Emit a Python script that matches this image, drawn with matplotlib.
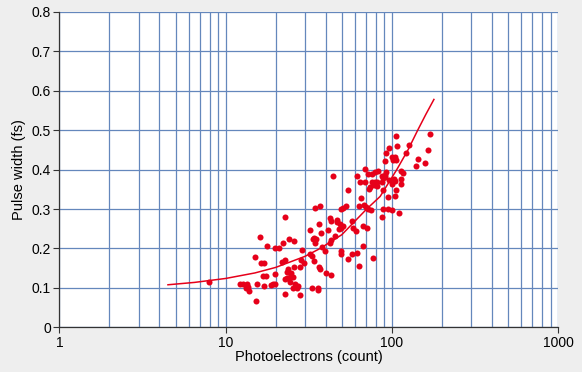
import numpy as np
import matplotlib
matplotlib.use("Agg")
import matplotlib.pyplot as plt
from matplotlib.ticker import FixedLocator, NullFormatter

plt.rcParams['font.family'] = ['Liberation Sans', 'DejaVu Sans']

counts = [
    7.9,
    22.8, 16.0, 24.0, 25.7, 17.8, 19.7, 20.8, 22.2, 29.0, 15.0, 17.1, 16.4, 22.8, 21.8,
    28.3, 29.7, 25.9, 28.0, 23.8, 23.3, 24.9, 25.4, 24.3, 19.7, 16.7, 17.6, 23.3, 22.8,
    19.9, 19.4, 18.8, 17.1, 15.4, 12.2, 12.8, 13.4, 13.6, 13.2, 13.8, 24.3, 26.1, 27.2,
    22.8, 28.2, 15.2, 25.4, 26.7,
    65.3, 34.4, 37.1, 49.2, 50.6, 53.3, 63.6, 67.9, 70.0, 72.2, 74.6, 42.4, 42.8, 47.0,
    47.0, 48.6, 57.2, 50.6, 49.2, 48.3, 36.6, 41.5, 32.2, 58.5, 60.6, 67.3, 71.3, 37.6,
    45.3, 34.2, 35.2, 33.6, 42.8, 42.4, 34.4, 38.1, 39.4, 49.2, 49.2, 32.2, 33.0, 61.8,
    57.9, 67.3, 77.5, 54.6, 34.0, 63.6, 36.6, 36.9, 40.4, 42.8, 33.3, 36.0, 36.0,
    94.4, 103.8, 88.8, 94.4, 99.9, 87.6, 110.5,
    44.4, 54.6, 61.5, 69.0, 72.0, 75.6, 64.7, 69.0, 75.6, 79.1, 73.7, 78.3, 73.1, 81.7, 81.7,
    106.5, 170, 107.1, 127, 96.2, 92.7, 164, 122, 99.8, 104, 105.3, 101.8, 144, 90.4,
    159, 139, 83, 79, 92.7, 90.4, 113, 116, 86.9, 88.8, 91, 95.5, 103, 105, 113, 99.7,
    114, 86.9, 88.8, 105.3,
]
widths = [
    0.114,
    0.280, 0.229, 0.224, 0.218, 0.207, 0.202, 0.202, 0.214, 0.196, 0.179, 0.164, 0.162, 0.170, 0.165,
    0.170, 0.162, 0.153, 0.153, 0.148, 0.141, 0.137, 0.128, 0.128, 0.135, 0.131, 0.131, 0.126, 0.122,
    0.111, 0.109, 0.107, 0.105, 0.111, 0.111, 0.109, 0.111, 0.103, 0.100, 0.092, 0.114, 0.111, 0.105,
    0.084, 0.083, 0.067, 0.101, 0.100,
    0.327, 0.303, 0.307, 0.301, 0.303, 0.307, 0.308, 0.310, 0.305, 0.300, 0.297, 0.277, 0.269, 0.273,
    0.266, 0.263, 0.269, 0.257, 0.253, 0.249, 0.261, 0.247, 0.247, 0.252, 0.244, 0.256, 0.252, 0.240,
    0.232, 0.227, 0.225, 0.224, 0.221, 0.214, 0.213, 0.204, 0.193, 0.193, 0.187, 0.187, 0.181, 0.189,
    0.185, 0.206, 0.175, 0.173, 0.168, 0.155, 0.153, 0.149, 0.139, 0.134, 0.100, 0.099, 0.094,
    0.331, 0.332, 0.300, 0.301, 0.297, 0.280, 0.289,
    0.383, 0.348, 0.383, 0.401, 0.390, 0.390, 0.369, 0.369, 0.369, 0.369, 0.356, 0.360, 0.352, 0.369, 0.358,
    0.485, 0.490, 0.461, 0.463, 0.455, 0.442, 0.449, 0.442, 0.432, 0.432, 0.425, 0.424, 0.426, 0.422,
    0.417, 0.410, 0.396, 0.394, 0.394, 0.386, 0.396, 0.391, 0.383, 0.380, 0.381, 0.373, 0.375, 0.371,
    0.375, 0.363, 0.363, 0.369, 0.348, 0.348,
]

# trend line
trend_x = [4.5, 6.5, 10, 15, 20, 30, 37, 50, 70.5, 85, 107, 125, 143, 160, 179]
trend_y = [0.108, 0.114, 0.124, 0.138, 0.152, 0.180, 0.200, 0.235, 0.300, 0.332, 0.400, 0.450, 0.500, 0.540, 0.578]

x_ticks = [1, 10, 100, 1000]
x_ticklabels = ['1', '10', '100', '1000']
y_ticks = [0, 0.1, 0.2, 0.3, 0.4, 0.5, 0.6, 0.7, 0.8]
y_ticklabels = ['0', '0.1', '0.2', '0.3', '0.4', '0.5', '0.6', '0.7', '0.8']

fig = plt.figure(figsize=(5.82, 3.72), dpi=100, facecolor='#EEEEEE')
ax = fig.add_axes([0.102, 0.120, 0.857, 0.848])
ax.set_facecolor('white')

ax.set_xscale('log')
ax.set_xlim(1, 1000)
ax.set_ylim(0, 0.8)

minor = [m * 10 ** d for d in range(3) for m in range(2, 10)]
ax.xaxis.set_major_locator(FixedLocator(x_ticks))
ax.xaxis.set_minor_locator(FixedLocator(minor))
ax.xaxis.set_minor_formatter(NullFormatter())
ax.set_xticklabels(x_ticklabels)
ax.set_yticks(y_ticks)
ax.set_yticklabels(y_ticklabels)

grid_col = '#6487BC'
ax.grid(True, which='major', axis='both', color=grid_col, lw=0.9)
ax.grid(True, which='minor', axis='x', color=grid_col, lw=0.9)
ax.set_axisbelow(True)

ax.scatter(counts, widths, s=19, color='#E6001A', zorder=3, linewidths=0)
ax.plot(trend_x, trend_y, color='#E6001A', lw=1.1, zorder=3)

for s in ['top', 'right']:
    ax.spines[s].set_visible(False)
for s in ['left', 'bottom']:
    ax.spines[s].set_color('#333333')
    ax.spines[s].set_linewidth(0.9)
ax.tick_params(axis='both', which='major', length=4, width=0.8, color='#333333',
               labelsize=10, pad=2)
ax.tick_params(axis='x', which='minor', length=0)

ax.set_xlabel('Photoelectrons (count)', fontsize=10.5, labelpad=0)
ax.set_ylabel('Pulse width (fs)', fontsize=10.5, labelpad=4)

fig.savefig('out.png', dpi=100, facecolor=fig.get_facecolor())
